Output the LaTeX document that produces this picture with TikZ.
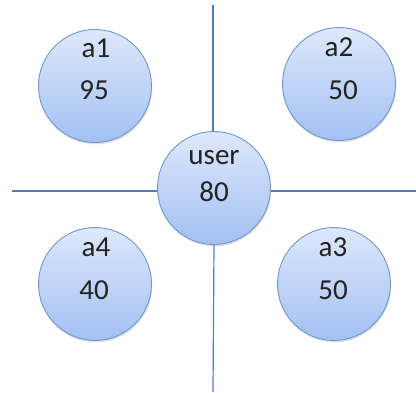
\documentclass[tikz,border=0pt]{standalone}
\usepackage{fontspec}
\setmainfont{Carlito}
\usetikzlibrary{shadows}
\definecolor{linec}{HTML}{4F7EBF}
\definecolor{edgec}{HTML}{7096CF}
\definecolor{topc}{HTML}{DDE8FB}
\definecolor{botc}{HTML}{A3C0F2}
\definecolor{txt}{HTML}{222222}
\tikzset{
  x=1pt, y=1pt,
  circ/.style={circle, minimum size=113pt, inner sep=0pt, draw=edgec, line width=0.9pt,
    top color=topc, bottom color=botc,
    drop shadow={opacity=0.25, shadow xshift=0.8pt, shadow yshift=-1.8pt}},
  txtn/.style={text=txt, font=\fontsize{29}{31}\selectfont, inner sep=0pt},
  axis/.style={draw=linec, line width=1.2pt}
}
\begin{document}
\begin{tikzpicture}
\useasboundingbox (0,0) rectangle (416,392);
% circles (y = 392 - pixel y)
\node[circ] (user) at (214,204) {};
\node[circ] (a1) at (95,306) {};
\node[circ] (a2) at (339,308) {};
\node[circ] (a4) at (95,108) {};
\node[circ] (a3) at (334,108) {};
% texts
\node[txtn] (tu) at (214,234) {user};
\node[txtn] (vu) at (214,200) {80};
\node[txtn] (t1) at (96,344) {a1};
\node[txtn] (v1) at (94,302) {95};
\node[txtn] (t2) at (339,345) {a2};
\node[txtn] (v2) at (343,302) {50};
\node[txtn] (t4) at (96,145) {a4};
\node[txtn] (v4) at (94,102) {40};
\node[txtn] (t3) at (333,145) {a3};
\node[txtn] (v3) at (333,102) {50};
% axes
\coordinate (top) at (213,387);
\coordinate (bottom) at (213,0);
\coordinate (left) at (12,201);
\coordinate (right) at (416,201);
\draw[axis] (top) -- (top |- user.north);
\draw[axis] (user.south) -- (bottom);
\draw[axis] (left) -- (left -| user.west);
\draw[axis] (user.east |- right) -- (right);
\end{tikzpicture}
\end{document}
